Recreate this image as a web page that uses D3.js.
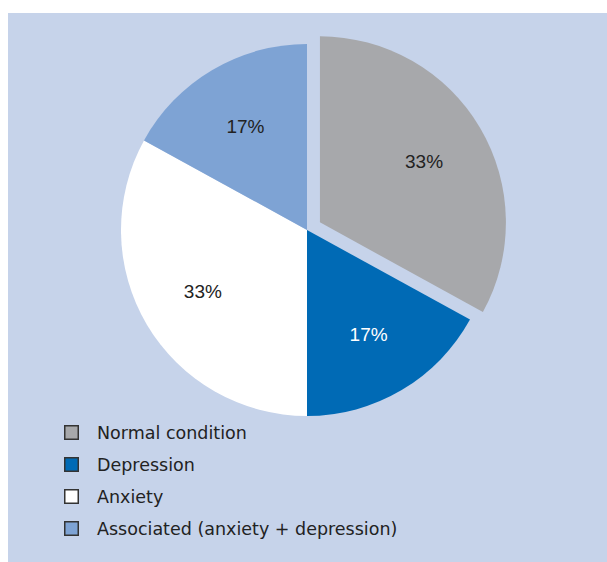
<!DOCTYPE html>
<html>
<head>
<meta charset="utf-8">
<script src="https://cdn.jsdelivr.net/npm/d3@7"></script>
<style>
  html, body { margin: 0; padding: 0; background: #ffffff; }
  svg { display: block; }
  .lbl { font-family: "Liberation Sans", Arial, sans-serif; }
  .leg { font-family: "DejaVu Sans", sans-serif; }
</style>
</head>
<body>
<svg id="chart" width="607" height="562"></svg>
<script>
const categories = ["Normal condition", "Depression", "Anxiety", "Associated (anxiety + depression)"];
const values = [33, 17, 33, 17];
const labels = ["33%", "17%", "33%", "17%"];
const colors = ["#a7a8ab", "#006ab5", "#ffffff", "#7ea3d4"];
const labelColors = ["#222222", "#ffffff", "#222222", "#222222"];
const exploded = [true, false, false, false];

const svg = d3.select("#chart");
const W = 607, H = 562;

svg.append("rect")
  .attr("x", 8).attr("y", 13)
  .attr("width", W - 8).attr("height", H - 13)
  .attr("fill", "#c6d3ea");

const cx = 307, cy = 230, R = 186, explodeDist = 15, labelR = 121;

const data = categories.map((c, i) => ({ name: c, value: values[i], label: labels[i], color: colors[i], lc: labelColors[i], ex: exploded[i] }));

const pie = d3.pie().value(d => d.value).sort(null);
const arcs = pie(data);
const arc = d3.arc().innerRadius(0).outerRadius(R);
const labelArc = d3.arc().innerRadius(labelR).outerRadius(labelR);

const g = svg.append("g").attr("transform", `translate(${cx},${cy})`);

function offset(d) {
  if (!d.data.ex) return [0, 0];
  const mid = (d.startAngle + d.endAngle) / 2;
  return [Math.sin(mid) * explodeDist, -Math.cos(mid) * explodeDist];
}

const slice = g.selectAll("g.slice").data(arcs).join("g")
  .attr("class", "slice")
  .attr("transform", d => { const o = offset(d); return `translate(${o[0]},${o[1]})`; });

slice.append("path")
  .attr("d", arc)
  .attr("fill", d => d.data.color);

slice.append("text")
  .attr("class", "lbl")
  .attr("transform", d => { const c = labelArc.centroid(d); return `translate(${c[0]},${c[1]})`; })
  .attr("text-anchor", "middle")
  .attr("dy", "0.36em")
  .attr("font-size", 19)
  .attr("fill", d => d.data.lc)
  .text(d => d.data.label);

const legend = svg.append("g").attr("transform", "translate(64,425)");
const row = legend.selectAll("g").data(data).join("g")
  .attr("transform", (d, i) => `translate(0,${i * 32})`);
row.append("rect")
  .attr("x", 0.75).attr("y", 0.75)
  .attr("width", 13.5).attr("height", 13.5)
  .attr("fill", d => d.color)
  .attr("stroke", "#333333")
  .attr("stroke-width", 1.5);
row.append("text")
  .attr("class", "leg")
  .attr("x", 33).attr("y", 13.5)
  .attr("font-size", 17.5)
  .attr("fill", "#222222")
  .text(d => d.name);
</script>
</body>
</html>
